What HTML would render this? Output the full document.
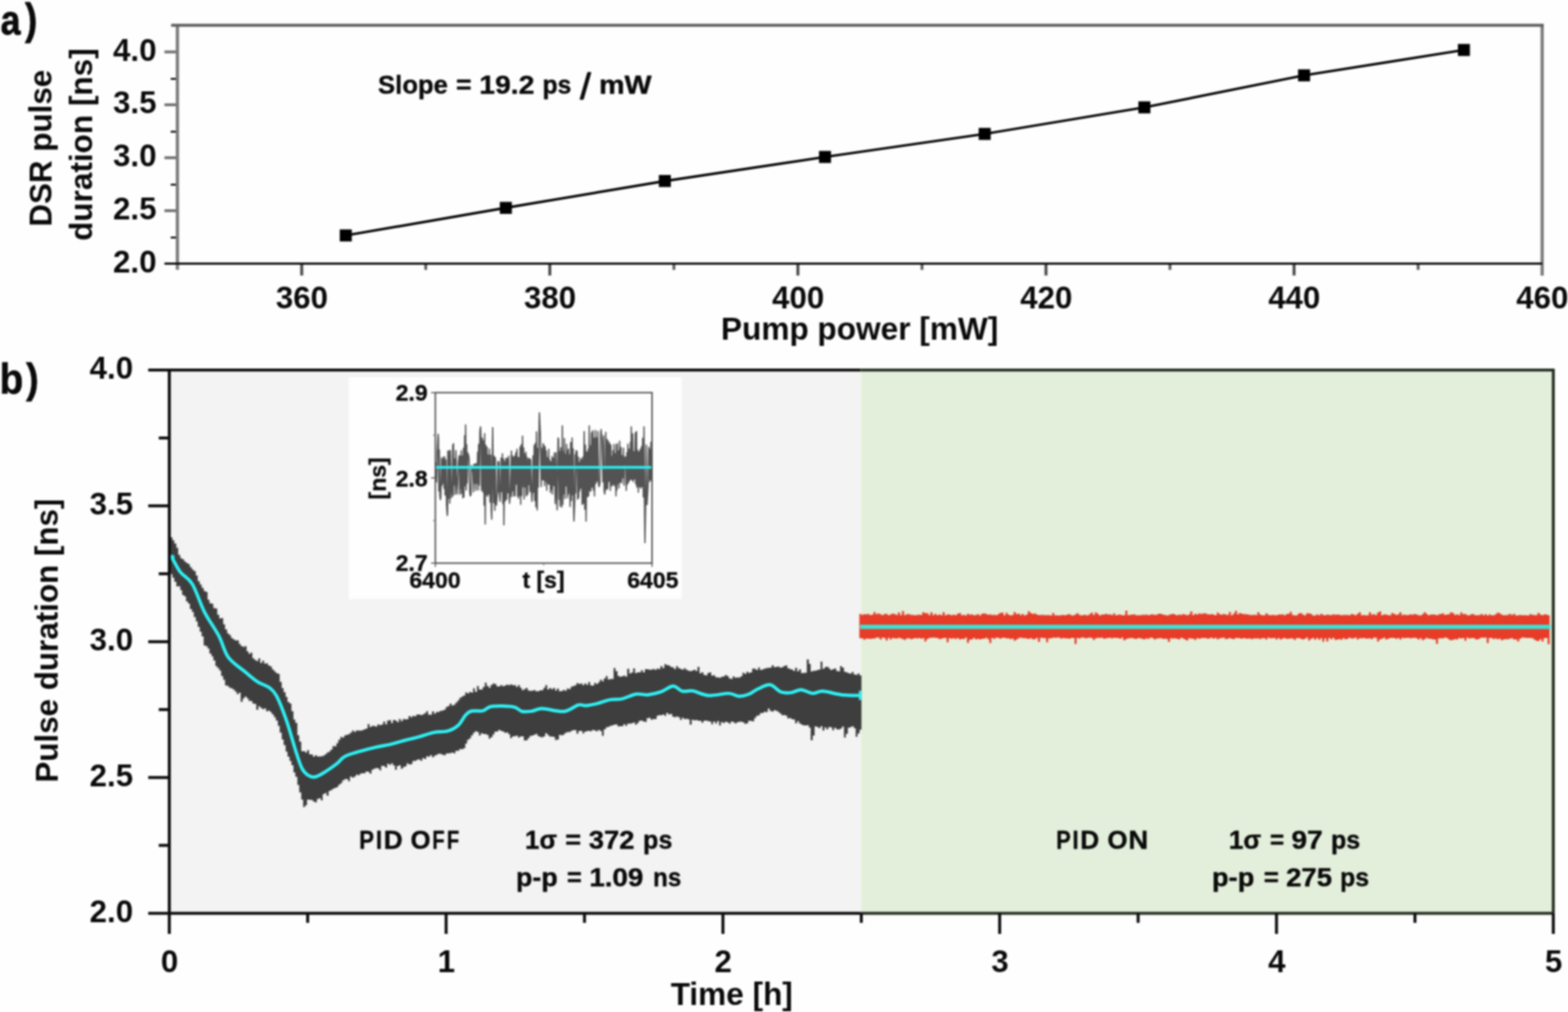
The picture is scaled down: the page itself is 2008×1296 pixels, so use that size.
<!DOCTYPE html>
<html lang="en">
<head>
<meta charset="utf-8">
<title>DSR pulse duration vs pump power and PID stabilisation</title>
<style>
html,body{margin:0;padding:0;background:#fefefe;}
body{width:2008px;height:1296px;overflow:hidden;}
svg{display:block;}
text{fill:#0a0a0a;}
</style>
</head>
<body>
<svg width="2008" height="1296" viewBox="0 0 2008 1296">
<defs>
<filter id="soft" x="-12" y="-12" width="2032" height="1320" filterUnits="userSpaceOnUse" color-interpolation-filters="sRGB">
<feGaussianBlur stdDeviation="0.9"/>
</filter>
</defs>
<rect x="0" y="0" width="2008" height="1296" fill="#fefefe"/>
<g filter="url(#soft)">
<rect x="-20" y="-20" width="2048" height="1336" fill="#fefefe"/>
<g id="panel-a">
<line x1="210.6" y1="66.5" x2="227.2" y2="66.5" stroke="#707070" stroke-width="3.6"/>
<line x1="210.6" y1="134.2" x2="227.2" y2="134.2" stroke="#707070" stroke-width="3.6"/>
<line x1="210.6" y1="202.0" x2="227.2" y2="202.0" stroke="#707070" stroke-width="3.6"/>
<line x1="210.6" y1="269.8" x2="227.2" y2="269.8" stroke="#707070" stroke-width="3.6"/>
<line x1="218.6" y1="101.0" x2="227.2" y2="101.0" stroke="#000" stroke-width="2.3"/>
<line x1="218.6" y1="168.7" x2="227.2" y2="168.7" stroke="#000" stroke-width="2.3"/>
<line x1="218.6" y1="236.5" x2="227.2" y2="236.5" stroke="#000" stroke-width="2.3"/>
<line x1="218.6" y1="304.2" x2="227.2" y2="304.2" stroke="#000" stroke-width="2.3"/>
<line x1="386.4" y1="337.5" x2="386.4" y2="352.8" stroke="#4a4a4a" stroke-width="3.8"/>
<line x1="704.1" y1="337.5" x2="704.1" y2="352.8" stroke="#4a4a4a" stroke-width="3.8"/>
<line x1="1021.8" y1="337.5" x2="1021.8" y2="352.8" stroke="#4a4a4a" stroke-width="3.8"/>
<line x1="1339.5" y1="337.5" x2="1339.5" y2="352.8" stroke="#4a4a4a" stroke-width="3.8"/>
<line x1="1657.2" y1="337.5" x2="1657.2" y2="352.8" stroke="#4a4a4a" stroke-width="3.8"/>
<line x1="545.2" y1="337.5" x2="545.2" y2="345.6" stroke="#5a5a5a" stroke-width="3.6"/>
<line x1="863.0" y1="337.5" x2="863.0" y2="345.6" stroke="#5a5a5a" stroke-width="3.6"/>
<line x1="1180.7" y1="337.5" x2="1180.7" y2="345.6" stroke="#5a5a5a" stroke-width="3.6"/>
<line x1="1498.3" y1="337.5" x2="1498.3" y2="345.6" stroke="#5a5a5a" stroke-width="3.6"/>
<line x1="1816.1" y1="337.5" x2="1816.1" y2="345.6" stroke="#5a5a5a" stroke-width="3.6"/>
<line x1="227.2" y1="30.9" x2="227.2" y2="345.6" stroke="#7c7c7c" stroke-width="4.2"/>
<line x1="1974.9" y1="30.9" x2="1974.9" y2="353.0" stroke="#7c7c7c" stroke-width="4.2"/>
<line x1="219.2" y1="32.4" x2="1976.9" y2="32.4" stroke="#5c5c5c" stroke-width="3.6"/>
<line x1="210.6" y1="337.7" x2="1974.9" y2="337.7" stroke="#060606" stroke-width="2.7"/>
<polyline fill="none" stroke="#000" stroke-width="3.2" points="442.8,301.5 647.8,266.2 851.4,231.8 1056.5,201.0 1261.0,171.5 1465.5,137.5 1670.0,96.5 1874.7,64.0"/>
<rect x="435.1" y="293.8" width="15.4" height="15.4" fill="#000"/>
<rect x="640.1" y="258.5" width="15.4" height="15.4" fill="#000"/>
<rect x="843.7" y="224.1" width="15.4" height="15.4" fill="#000"/>
<rect x="1048.8" y="193.3" width="15.4" height="15.4" fill="#000"/>
<rect x="1253.3" y="163.8" width="15.4" height="15.4" fill="#000"/>
<rect x="1457.8" y="129.8" width="15.4" height="15.4" fill="#000"/>
<rect x="1662.3" y="88.8" width="15.4" height="15.4" fill="#000"/>
<rect x="1867.0" y="56.3" width="15.4" height="15.4" fill="#000"/>
<text x="200.4" y="77.5" text-anchor="end" font-family="Liberation Sans, Arial, sans-serif" font-weight="bold" font-size="40">4.0</text>
<text x="200.4" y="145.2" text-anchor="end" font-family="Liberation Sans, Arial, sans-serif" font-weight="bold" font-size="40">3.5</text>
<text x="200.4" y="213.0" text-anchor="end" font-family="Liberation Sans, Arial, sans-serif" font-weight="bold" font-size="40">3.0</text>
<text x="200.4" y="280.8" text-anchor="end" font-family="Liberation Sans, Arial, sans-serif" font-weight="bold" font-size="40">2.5</text>
<text x="200.4" y="348.5" text-anchor="end" font-family="Liberation Sans, Arial, sans-serif" font-weight="bold" font-size="40">2.0</text>
<text x="386.7" y="395" text-anchor="middle" font-family="Liberation Sans, Arial, sans-serif" font-weight="bold" font-size="40">360</text>
<text x="704.4" y="395" text-anchor="middle" font-family="Liberation Sans, Arial, sans-serif" font-weight="bold" font-size="40">380</text>
<text x="1022.1" y="395" text-anchor="middle" font-family="Liberation Sans, Arial, sans-serif" font-weight="bold" font-size="40">400</text>
<text x="1339.8" y="395" text-anchor="middle" font-family="Liberation Sans, Arial, sans-serif" font-weight="bold" font-size="40">420</text>
<text x="1657.5" y="395" text-anchor="middle" font-family="Liberation Sans, Arial, sans-serif" font-weight="bold" font-size="40">440</text>
<text x="1975.2" y="395" text-anchor="middle" font-family="Liberation Sans, Arial, sans-serif" font-weight="bold" font-size="40">460</text>
<text transform="translate(1100.8,435.3) scale(1.012,1)" text-anchor="middle" font-family="Liberation Sans, Arial, sans-serif" font-weight="bold" font-size="40">Pump power [mW]</text>
<text transform="translate(65.7,189.8) rotate(-90) scale(0.98,1)" text-anchor="middle" font-family="Liberation Sans, Arial, sans-serif" font-weight="bold" font-size="41">DSR pulse</text>
<text transform="translate(117.9,185.2) rotate(-90) scale(0.985,1)" text-anchor="middle" font-family="Liberation Sans, Arial, sans-serif" font-weight="bold" font-size="41">duration [ns]</text>
<text y="120.2" font-family="Liberation Sans, Arial, sans-serif" font-weight="bold" font-size="34.0" fill="#0a0a0a" stroke="#0a0a0a" stroke-width="0.50" stroke-linejoin="round"><tspan x="484.1" y="120.2" textLength="89.5" lengthAdjust="spacingAndGlyphs">Slope</tspan> <tspan x="584.1" y="120.2" textLength="19.8" lengthAdjust="spacingAndGlyphs">=</tspan> <tspan x="613.8" y="120.2" textLength="70.5" lengthAdjust="spacingAndGlyphs">19.2</tspan> <tspan x="694.7" y="120.2" textLength="36.9" lengthAdjust="spacingAndGlyphs">ps</tspan> <tspan x="743.0" font-size="47.0" stroke-width="1.30" font-weight="normal" y="126.6" textLength="13.5" lengthAdjust="spacingAndGlyphs">/</tspan> <tspan x="767.2" y="120.2" textLength="67.3" lengthAdjust="spacingAndGlyphs">mW</tspan></text>
<text transform="translate(0.85,44.2) scale(0.85,1)" font-family="Liberation Sans, Arial, sans-serif" font-weight="bold" font-size="54" stroke="#0a0a0a" stroke-width="0.9" stroke-linejoin="round">a<tspan dx="6.7" dy="-0.8" font-size="55.5">)</tspan></text>
</g>
<g id="panel-b">
<rect x="216.8" y="473.9" width="885.7" height="695.7" fill="#f3f3f3"/>
<rect x="1102.5" y="473.9" width="886.7" height="695.7" fill="#e3efdb"/>
<rect x="446.5" y="483.3" width="426.5" height="284" fill="#fefefe"/>
<polygon fill="#3e3e3e" points="215.8,691.4 218.2,691.4 218.2,687.9 220.8,687.9 220.8,691.8 223.2,691.8 223.2,695.9 225.8,695.9 225.8,701.5 228.2,701.5 228.2,710.4 230.8,710.4 230.8,714.7 233.2,714.7 233.2,716.3 235.8,716.3 235.8,719.1 238.2,719.1 238.2,721.1 240.8,721.1 240.8,722.6 243.2,722.6 243.2,726.6 245.8,726.6 245.8,729.6 248.2,729.6 248.2,731.6 250.8,731.6 250.8,736.9 253.2,736.9 253.2,744.2 255.8,744.2 255.8,748.6 258.2,748.6 258.2,752.7 260.8,752.7 260.8,756.7 263.2,756.7 263.2,757.9 265.8,757.9 265.8,768.1 268.2,768.1 268.2,772.4 270.8,772.4 270.8,773.3 273.2,773.3 273.2,778.7 275.8,778.7 275.8,779.2 278.2,779.2 278.2,787.3 280.8,787.3 280.8,792.1 283.2,792.1 283.2,791.6 285.8,791.6 285.8,799.4 288.2,799.4 288.2,806.1 290.8,806.1 290.8,811.1 293.2,811.1 293.2,813.3 295.8,813.3 295.8,816.9 298.2,816.9 298.2,818.8 300.8,818.8 300.8,820.2 303.2,820.2 303.2,820.1 305.8,820.1 305.8,824.6 308.2,824.6 308.2,827.3 310.8,827.3 310.8,828.6 313.2,828.6 313.2,827.4 315.8,827.4 315.8,833.9 318.2,833.9 318.2,837.2 320.8,837.2 320.8,835.7 323.2,835.7 323.2,843.0 325.8,843.0 325.8,845.3 328.2,845.3 328.2,846.5 330.8,846.5 330.8,843.0 333.2,843.0 333.2,849.1 335.8,849.1 335.8,845.9 338.2,845.9 338.2,849.7 340.8,849.7 340.8,849.5 343.2,849.5 343.2,852.3 345.8,852.3 345.8,853.4 348.2,853.4 348.2,857.2 350.8,857.2 350.8,859.8 353.2,859.8 353.2,861.9 355.8,861.9 355.8,863.0 358.2,863.0 358.2,873.2 360.8,873.2 360.8,881.3 363.2,881.3 363.2,886.4 365.8,886.4 365.8,892.4 368.2,892.4 368.2,899.1 370.8,899.1 370.8,900.9 373.2,900.9 373.2,910.7 375.8,910.7 375.8,921.4 378.2,921.4 378.2,925.8 380.8,925.8 380.8,941.6 383.2,941.6 383.2,949.8 385.8,949.8 385.8,961.9 388.2,961.9 388.2,961.9 390.8,961.9 390.8,963.8 393.2,963.8 393.2,960.7 395.8,960.7 395.8,965.9 398.2,965.9 398.2,966.2 400.8,966.2 400.8,968.9 403.2,968.9 403.2,967.2 405.8,967.2 405.8,968.7 408.2,968.7 408.2,968.7 410.8,968.7 410.8,968.4 413.2,968.4 413.2,967.7 415.8,967.7 415.8,965.9 418.2,965.9 418.2,963.7 420.8,963.7 420.8,962.6 423.2,962.6 423.2,960.0 425.8,960.0 425.8,955.4 428.2,955.4 428.2,955.8 430.8,955.8 430.8,951.8 433.2,951.8 433.2,947.4 435.8,947.4 435.8,943.8 438.2,943.8 438.2,944.4 440.8,944.4 440.8,941.8 443.2,941.8 443.2,941.0 445.8,941.0 445.8,940.2 448.2,940.2 448.2,938.3 450.8,938.3 450.8,935.6 453.2,935.6 453.2,937.2 455.8,937.2 455.8,935.5 458.2,935.5 458.2,935.4 460.8,935.4 460.8,935.7 463.2,935.7 463.2,935.1 465.8,935.1 465.8,934.0 468.2,934.0 468.2,932.9 470.8,932.9 470.8,927.3 473.2,927.3 473.2,930.9 475.8,930.9 475.8,929.4 478.2,929.4 478.2,929.7 480.8,929.7 480.8,930.5 483.2,930.5 483.2,927.8 485.8,927.8 485.8,928.7 488.2,928.7 488.2,927.7 490.8,927.7 490.8,924.1 493.2,924.1 493.2,927.4 495.8,927.4 495.8,922.7 498.2,922.7 498.2,922.2 500.8,922.2 500.8,926.1 503.2,926.1 503.2,922.1 505.8,922.1 505.8,922.7 508.2,922.7 508.2,924.8 510.8,924.8 510.8,920.8 513.2,920.8 513.2,923.6 515.8,923.6 515.8,920.8 518.2,920.8 518.2,921.3 520.8,921.3 520.8,920.9 523.2,920.9 523.2,917.0 525.8,917.0 525.8,918.6 528.2,918.6 528.2,916.8 530.8,916.8 530.8,917.3 533.2,917.3 533.2,915.0 535.8,915.0 535.8,915.0 538.2,915.0 538.2,915.8 540.8,915.8 540.8,915.1 543.2,915.1 543.2,913.2 545.8,913.2 545.8,910.8 548.2,910.8 548.2,915.2 550.8,915.2 550.8,915.3 553.2,915.3 553.2,911.1 555.8,911.1 555.8,913.9 558.2,913.9 558.2,911.7 560.8,911.7 560.8,911.7 563.2,911.7 563.2,910.2 565.8,910.2 565.8,910.1 568.2,910.1 568.2,908.8 570.8,908.8 570.8,905.6 573.2,905.6 573.2,904.3 575.8,904.3 575.8,901.1 578.2,901.1 578.2,903.4 580.8,903.4 580.8,902.6 583.2,902.6 583.2,899.8 585.8,899.8 585.8,896.9 588.2,896.9 588.2,893.8 590.8,893.8 590.8,891.9 593.2,891.9 593.2,890.8 595.8,890.8 595.8,886.8 598.2,886.8 598.2,888.0 600.8,888.0 600.8,886.0 603.2,886.0 603.2,887.1 605.8,887.1 605.8,881.4 608.2,881.4 608.2,886.0 610.8,886.0 610.8,878.6 613.2,878.6 613.2,882.9 615.8,882.9 615.8,883.1 618.2,883.1 618.2,879.7 620.8,879.7 620.8,874.2 623.2,874.2 623.2,878.6 625.8,878.6 625.8,880.7 628.2,880.7 628.2,877.2 630.8,877.2 630.8,875.2 633.2,875.2 633.2,876.1 635.8,876.1 635.8,879.1 638.2,879.1 638.2,878.9 640.8,878.9 640.8,877.3 643.2,877.3 643.2,878.7 645.8,878.7 645.8,878.0 648.2,878.0 648.2,876.8 650.8,876.8 650.8,877.5 653.2,877.5 653.2,876.5 655.8,876.5 655.8,877.5 658.2,877.5 658.2,877.5 660.8,877.5 660.8,879.7 663.2,879.7 663.2,877.5 665.8,877.5 665.8,880.8 668.2,880.8 668.2,883.7 670.8,883.7 670.8,882.6 673.2,882.6 673.2,881.0 675.8,881.0 675.8,884.3 678.2,884.3 678.2,884.7 680.8,884.7 680.8,884.4 683.2,884.4 683.2,883.8 685.8,883.8 685.8,885.3 688.2,885.3 688.2,885.2 690.8,885.2 690.8,884.1 693.2,884.1 693.2,884.0 695.8,884.0 695.8,881.0 698.2,881.0 698.2,877.5 700.8,877.5 700.8,882.9 703.2,882.9 703.2,881.0 705.8,881.0 705.8,882.8 708.2,882.8 708.2,881.1 710.8,881.1 710.8,884.2 713.2,884.2 713.2,881.7 715.8,881.7 715.8,885.2 718.2,885.2 718.2,885.1 720.8,885.1 720.8,883.6 723.2,883.6 723.2,884.5 725.8,884.5 725.8,881.8 728.2,881.8 728.2,882.6 730.8,882.6 730.8,879.5 733.2,879.5 733.2,878.4 735.8,878.4 735.8,877.7 738.2,877.7 738.2,874.7 740.8,874.7 740.8,876.0 743.2,876.0 743.2,875.3 745.8,875.3 745.8,877.4 748.2,877.4 748.2,875.2 750.8,875.2 750.8,877.1 753.2,877.1 753.2,873.5 755.8,873.5 755.8,877.8 758.2,877.8 758.2,878.0 760.8,878.0 760.8,874.5 763.2,874.5 763.2,876.0 765.8,876.0 765.8,873.8 768.2,873.8 768.2,870.6 770.8,870.6 770.8,872.5 773.2,872.5 773.2,868.8 775.8,868.8 775.8,865.7 778.2,865.7 778.2,870.3 780.8,870.3 780.8,869.4 783.2,869.4 783.2,869.4 785.8,869.4 785.8,855.6 788.2,855.6 788.2,859.4 790.8,859.4 790.8,865.4 793.2,865.4 793.2,866.7 795.8,866.7 795.8,865.9 798.2,865.9 798.2,865.2 800.8,865.2 800.8,866.6 803.2,866.6 803.2,856.6 805.8,856.6 805.8,862.5 808.2,862.5 808.2,861.3 810.8,861.3 810.8,855.9 813.2,855.9 813.2,861.9 815.8,861.9 815.8,860.9 818.2,860.9 818.2,860.9 820.8,860.9 820.8,858.3 823.2,858.3 823.2,860.9 825.8,860.9 825.8,857.0 828.2,857.0 828.2,857.1 830.8,857.1 830.8,857.7 833.2,857.7 833.2,857.6 835.8,857.6 835.8,856.7 838.2,856.7 838.2,857.7 840.8,857.7 840.8,856.3 843.2,856.3 843.2,856.8 845.8,856.8 845.8,853.0 848.2,853.0 848.2,855.4 850.8,855.4 850.8,850.5 853.2,850.5 853.2,851.8 855.8,851.8 855.8,852.3 858.2,852.3 858.2,854.1 860.8,854.1 860.8,854.7 863.2,854.7 863.2,856.7 865.8,856.7 865.8,853.0 868.2,853.0 868.2,855.6 870.8,855.6 870.8,856.7 873.2,856.7 873.2,857.5 875.8,857.5 875.8,855.8 878.2,855.8 878.2,857.7 880.8,857.7 880.8,858.9 883.2,858.9 883.2,859.6 885.8,859.6 885.8,858.7 888.2,858.7 888.2,857.8 890.8,857.8 890.8,859.2 893.2,859.2 893.2,854.1 895.8,854.1 895.8,862.3 898.2,862.3 898.2,861.1 900.8,861.1 900.8,864.3 903.2,864.3 903.2,865.1 905.8,865.1 905.8,861.9 908.2,861.9 908.2,861.0 910.8,861.0 910.8,865.3 913.2,865.3 913.2,864.8 915.8,864.8 915.8,867.2 918.2,867.2 918.2,867.5 920.8,867.5 920.8,867.9 923.2,867.9 923.2,866.8 925.8,866.8 925.8,866.2 928.2,866.2 928.2,864.5 930.8,864.5 930.8,865.7 933.2,865.7 933.2,868.8 935.8,868.8 935.8,869.5 938.2,869.5 938.2,866.3 940.8,866.3 940.8,868.0 943.2,868.0 943.2,867.6 945.8,867.6 945.8,867.7 948.2,867.7 948.2,866.1 950.8,866.1 950.8,861.4 953.2,861.4 953.2,863.1 955.8,863.1 955.8,860.2 958.2,860.2 958.2,861.8 960.8,861.8 960.8,861.0 963.2,861.0 963.2,856.2 965.8,856.2 965.8,856.4 968.2,856.4 968.2,858.0 970.8,858.0 970.8,854.7 973.2,854.7 973.2,858.1 975.8,858.1 975.8,857.3 978.2,857.3 978.2,856.2 980.8,856.2 980.8,855.6 983.2,855.6 983.2,855.2 985.8,855.2 985.8,855.0 988.2,855.0 988.2,852.0 990.8,852.0 990.8,854.5 993.2,854.5 993.2,853.9 995.8,853.9 995.8,853.5 998.2,853.5 998.2,855.1 1000.8,855.1 1000.8,854.6 1003.2,854.6 1003.2,852.9 1005.8,852.9 1005.8,852.0 1008.2,852.0 1008.2,855.8 1010.8,855.8 1010.8,856.7 1013.2,856.7 1013.2,857.4 1015.8,857.4 1015.8,859.3 1018.2,859.3 1018.2,855.2 1020.8,855.2 1020.8,859.7 1023.2,859.7 1023.2,857.2 1025.8,857.2 1025.8,862.0 1028.2,862.0 1028.2,861.8 1030.8,861.8 1030.8,861.4 1033.2,861.4 1033.2,844.4 1035.8,844.4 1035.8,850.2 1038.2,850.2 1038.2,859.9 1040.8,859.9 1040.8,858.9 1043.2,858.9 1043.2,859.1 1045.8,859.1 1045.8,857.9 1048.2,857.9 1048.2,857.6 1050.8,857.6 1050.8,847.3 1053.2,847.3 1053.2,856.6 1055.8,856.6 1055.8,854.4 1058.2,854.4 1058.2,853.8 1060.8,853.8 1060.8,855.8 1063.2,855.8 1063.2,857.9 1065.8,857.9 1065.8,856.9 1068.2,856.9 1068.2,856.0 1070.8,856.0 1070.8,859.3 1073.2,859.3 1073.2,859.7 1075.8,859.7 1075.8,853.0 1078.2,853.0 1078.2,854.9 1080.8,854.9 1080.8,860.3 1083.2,860.3 1083.2,860.9 1085.8,860.9 1085.8,862.2 1088.2,862.2 1088.2,862.5 1090.8,862.5 1090.8,860.4 1093.2,860.4 1093.2,863.8 1095.8,863.8 1095.8,864.3 1098.2,864.3 1098.2,862.5 1100.8,862.5 1100.8,865.1 1103.2,865.1 1103.2,934.5 1100.8,934.5 1100.8,939.2 1098.2,939.2 1098.2,943.5 1095.8,943.5 1095.8,932.6 1093.2,932.6 1093.2,930.1 1090.8,930.1 1090.8,931.3 1088.2,931.3 1088.2,931.9 1085.8,931.9 1085.8,939.7 1083.2,939.7 1083.2,944.4 1080.8,944.4 1080.8,930.6 1078.2,930.6 1078.2,933.1 1075.8,933.1 1075.8,934.3 1073.2,934.3 1073.2,934.0 1070.8,934.0 1070.8,932.0 1068.2,932.0 1068.2,935.2 1065.8,935.2 1065.8,931.5 1063.2,931.5 1063.2,930.9 1060.8,930.9 1060.8,933.9 1058.2,933.9 1058.2,931.5 1055.8,931.5 1055.8,935.5 1053.2,935.5 1053.2,930.1 1050.8,930.1 1050.8,932.6 1048.2,932.6 1048.2,930.9 1045.8,930.9 1045.8,930.2 1043.2,930.2 1043.2,942.0 1040.8,942.0 1040.8,948.0 1038.2,948.0 1038.2,931.8 1035.8,931.8 1035.8,928.7 1033.2,928.7 1033.2,929.0 1030.8,929.0 1030.8,929.1 1028.2,929.1 1028.2,928.0 1025.8,928.0 1025.8,926.4 1023.2,926.4 1023.2,923.5 1020.8,923.5 1020.8,926.2 1018.2,926.2 1018.2,921.5 1015.8,921.5 1015.8,920.9 1013.2,920.9 1013.2,919.4 1010.8,919.4 1010.8,920.1 1008.2,920.1 1008.2,916.5 1005.8,916.5 1005.8,915.7 1003.2,915.7 1003.2,916.0 1000.8,916.0 1000.8,913.8 998.2,913.8 998.2,911.8 995.8,911.8 995.8,910.2 993.2,910.2 993.2,909.5 990.8,909.5 990.8,911.3 988.2,911.3 988.2,910.6 985.8,910.6 985.8,907.6 983.2,907.6 983.2,912.0 980.8,912.0 980.8,911.6 978.2,911.6 978.2,913.0 975.8,913.0 975.8,913.2 973.2,913.2 973.2,916.1 970.8,916.1 970.8,916.7 968.2,916.7 968.2,919.5 965.8,919.5 965.8,923.8 963.2,923.8 963.2,923.3 960.8,923.3 960.8,922.9 958.2,922.9 958.2,926.3 955.8,926.3 955.8,927.0 953.2,927.0 953.2,924.9 950.8,924.9 950.8,924.2 948.2,924.2 948.2,924.3 945.8,924.3 945.8,924.9 943.2,924.9 943.2,926.4 940.8,926.4 940.8,924.7 938.2,924.7 938.2,924.0 935.8,924.0 935.8,926.8 933.2,926.8 933.2,924.9 930.8,924.9 930.8,924.3 928.2,924.3 928.2,926.0 925.8,926.0 925.8,924.8 923.2,924.8 923.2,929.0 920.8,929.0 920.8,923.5 918.2,923.5 918.2,926.6 915.8,926.6 915.8,923.9 913.2,923.9 913.2,927.4 910.8,927.4 910.8,923.9 908.2,923.9 908.2,923.5 905.8,923.5 905.8,922.7 903.2,922.7 903.2,922.9 900.8,922.9 900.8,925.4 898.2,925.4 898.2,923.0 895.8,923.0 895.8,923.0 893.2,923.0 893.2,922.1 890.8,922.1 890.8,922.6 888.2,922.6 888.2,921.7 885.8,921.7 885.8,928.0 883.2,928.0 883.2,921.3 880.8,921.3 880.8,920.4 878.2,920.4 878.2,920.9 875.8,920.9 875.8,919.3 873.2,919.3 873.2,921.9 870.8,921.9 870.8,918.4 868.2,918.4 868.2,917.6 865.8,917.6 865.8,918.4 863.2,918.4 863.2,917.7 860.8,917.7 860.8,914.3 858.2,914.3 858.2,915.0 855.8,915.0 855.8,913.0 853.2,913.0 853.2,916.7 850.8,916.7 850.8,914.9 848.2,914.9 848.2,915.9 845.8,915.9 845.8,915.8 843.2,915.8 843.2,916.7 840.8,916.7 840.8,921.0 838.2,921.0 838.2,920.7 835.8,920.7 835.8,921.8 833.2,921.8 833.2,919.2 830.8,919.2 830.8,919.7 828.2,919.7 828.2,924.5 825.8,924.5 825.8,924.0 823.2,924.0 823.2,922.7 820.8,922.7 820.8,923.1 818.2,923.1 818.2,925.8 815.8,925.8 815.8,928.1 813.2,928.1 813.2,925.2 810.8,925.2 810.8,926.2 808.2,926.2 808.2,926.7 805.8,926.7 805.8,926.8 803.2,926.8 803.2,929.4 800.8,929.4 800.8,927.6 798.2,927.6 798.2,929.9 795.8,929.9 795.8,930.1 793.2,930.1 793.2,930.3 790.8,930.3 790.8,927.7 788.2,927.7 788.2,927.9 785.8,927.9 785.8,929.0 783.2,929.0 783.2,929.4 780.8,929.4 780.8,930.8 778.2,930.8 778.2,931.5 775.8,931.5 775.8,934.0 773.2,934.0 773.2,942.2 770.8,942.2 770.8,936.2 768.2,936.2 768.2,934.8 765.8,934.8 765.8,936.6 763.2,936.6 763.2,935.5 760.8,935.5 760.8,934.8 758.2,934.8 758.2,936.6 755.8,936.6 755.8,936.1 753.2,936.1 753.2,936.2 750.8,936.2 750.8,936.9 748.2,936.9 748.2,939.2 745.8,939.2 745.8,936.0 743.2,936.0 743.2,936.1 740.8,936.1 740.8,939.5 738.2,939.5 738.2,935.1 735.8,935.1 735.8,935.1 733.2,935.1 733.2,936.0 730.8,936.0 730.8,937.5 728.2,937.5 728.2,937.5 725.8,937.5 725.8,938.5 723.2,938.5 723.2,940.8 720.8,940.8 720.8,941.7 718.2,941.7 718.2,941.1 715.8,941.1 715.8,946.9 713.2,946.9 713.2,947.7 710.8,947.7 710.8,943.8 708.2,943.8 708.2,943.3 705.8,943.3 705.8,943.3 703.2,943.3 703.2,941.3 700.8,941.3 700.8,939.1 698.2,939.1 698.2,942.9 695.8,942.9 695.8,944.2 693.2,944.2 693.2,943.7 690.8,943.7 690.8,942.6 688.2,942.6 688.2,939.7 685.8,939.7 685.8,940.9 683.2,940.9 683.2,942.0 680.8,942.0 680.8,942.5 678.2,942.5 678.2,945.2 675.8,945.2 675.8,948.0 673.2,948.0 673.2,948.2 670.8,948.2 670.8,943.0 668.2,943.0 668.2,942.9 665.8,942.9 665.8,944.6 663.2,944.6 663.2,941.9 660.8,941.9 660.8,942.8 658.2,942.8 658.2,942.9 655.8,942.9 655.8,945.3 653.2,945.3 653.2,940.3 650.8,940.3 650.8,937.9 648.2,937.9 648.2,938.4 645.8,938.4 645.8,936.7 643.2,936.7 643.2,936.1 640.8,936.1 640.8,934.8 638.2,934.8 638.2,936.8 635.8,936.8 635.8,937.0 633.2,937.0 633.2,940.5 630.8,940.5 630.8,943.9 628.2,943.9 628.2,946.0 625.8,946.0 625.8,941.3 623.2,941.3 623.2,939.9 620.8,939.9 620.8,940.0 618.2,940.0 618.2,938.9 615.8,938.9 615.8,941.7 613.2,941.7 613.2,937.5 610.8,937.5 610.8,936.5 608.2,936.5 608.2,938.5 605.8,938.5 605.8,941.8 603.2,941.8 603.2,945.4 600.8,945.4 600.8,947.6 598.2,947.6 598.2,952.3 595.8,952.3 595.8,958.2 593.2,958.2 593.2,959.6 590.8,959.6 590.8,959.2 588.2,959.2 588.2,961.4 585.8,961.4 585.8,961.5 583.2,961.5 583.2,964.8 580.8,964.8 580.8,963.8 578.2,963.8 578.2,964.5 575.8,964.5 575.8,964.8 573.2,964.8 573.2,965.1 570.8,965.1 570.8,967.3 568.2,967.3 568.2,966.6 565.8,966.6 565.8,965.4 563.2,965.4 563.2,965.3 560.8,965.3 560.8,966.4 558.2,966.4 558.2,967.7 555.8,967.7 555.8,969.7 553.2,969.7 553.2,967.0 550.8,967.0 550.8,969.0 548.2,969.0 548.2,968.6 545.8,968.6 545.8,971.9 543.2,971.9 543.2,970.7 540.8,970.7 540.8,974.2 538.2,974.2 538.2,972.6 535.8,972.6 535.8,973.1 533.2,973.1 533.2,974.6 530.8,974.6 530.8,974.6 528.2,974.6 528.2,978.4 525.8,978.4 525.8,978.9 523.2,978.9 523.2,977.4 520.8,977.4 520.8,981.3 518.2,981.3 518.2,982.6 515.8,982.6 515.8,984.5 513.2,984.5 513.2,980.1 510.8,980.1 510.8,981.0 508.2,981.0 508.2,985.8 505.8,985.8 505.8,980.2 503.2,980.2 503.2,977.6 500.8,977.6 500.8,979.4 498.2,979.4 498.2,977.9 495.8,977.9 495.8,983.1 493.2,983.1 493.2,980.9 490.8,980.9 490.8,980.8 488.2,980.8 488.2,986.4 485.8,986.4 485.8,984.0 483.2,984.0 483.2,983.6 480.8,983.6 480.8,984.4 478.2,984.4 478.2,985.7 475.8,985.7 475.8,990.7 473.2,990.7 473.2,988.4 470.8,988.4 470.8,988.0 468.2,988.0 468.2,990.2 465.8,990.2 465.8,990.2 463.2,990.2 463.2,990.8 460.8,990.8 460.8,992.8 458.2,992.8 458.2,992.0 455.8,992.0 455.8,994.6 453.2,994.6 453.2,996.1 450.8,996.1 450.8,994.6 448.2,994.6 448.2,1000.5 445.8,1000.5 445.8,997.8 443.2,997.8 443.2,997.8 440.8,997.8 440.8,999.5 438.2,999.5 438.2,1002.9 435.8,1002.9 435.8,1004.9 433.2,1004.9 433.2,1008.1 430.8,1008.1 430.8,1008.9 428.2,1008.9 428.2,1009.9 425.8,1009.9 425.8,1011.8 423.2,1011.8 423.2,1013.1 420.8,1013.1 420.8,1019.1 418.2,1019.1 418.2,1015.4 415.8,1015.4 415.8,1017.1 413.2,1017.1 413.2,1025.1 410.8,1025.1 410.8,1022.2 408.2,1022.2 408.2,1023.3 405.8,1023.3 405.8,1027.4 403.2,1027.4 403.2,1026.5 400.8,1026.5 400.8,1024.5 398.2,1024.5 398.2,1024.3 395.8,1024.3 395.8,1024.1 393.2,1024.1 393.2,1031.2 390.8,1031.2 390.8,1033.5 388.2,1033.5 388.2,1023.9 385.8,1023.9 385.8,1014.8 383.2,1014.8 383.2,1005.2 380.8,1005.2 380.8,994.7 378.2,994.7 378.2,989.3 375.8,989.3 375.8,980.1 373.2,980.1 373.2,974.4 370.8,974.4 370.8,968.9 368.2,968.9 368.2,962.5 365.8,962.5 365.8,954.3 363.2,954.3 363.2,947.0 360.8,947.0 360.8,938.2 358.2,938.2 358.2,929.6 355.8,929.6 355.8,922.8 353.2,922.8 353.2,918.5 350.8,918.5 350.8,915.0 348.2,915.0 348.2,912.0 345.8,912.0 345.8,909.9 343.2,909.9 343.2,911.0 340.8,911.0 340.8,907.3 338.2,907.3 338.2,908.3 335.8,908.3 335.8,906.4 333.2,906.4 333.2,904.6 330.8,904.6 330.8,908.9 328.2,908.9 328.2,901.4 325.8,901.4 325.8,901.0 323.2,901.0 323.2,897.7 320.8,897.7 320.8,897.4 318.2,897.4 318.2,894.3 315.8,894.3 315.8,891.9 313.2,891.9 313.2,894.6 310.8,894.6 310.8,898.7 308.2,898.7 308.2,887.1 305.8,887.1 305.8,888.9 303.2,888.9 303.2,885.7 300.8,885.7 300.8,883.2 298.2,883.2 298.2,881.5 295.8,881.5 295.8,880.7 293.2,880.7 293.2,878.5 290.8,878.5 290.8,877.8 288.2,877.8 288.2,870.6 285.8,870.6 285.8,865.7 283.2,865.7 283.2,858.7 280.8,858.7 280.8,855.4 278.2,855.4 278.2,853.0 275.8,853.0 275.8,845.7 273.2,845.7 273.2,840.4 270.8,840.4 270.8,837.1 268.2,837.1 268.2,830.6 265.8,830.6 265.8,827.6 263.2,827.6 263.2,826.6 260.8,826.6 260.8,814.9 258.2,814.9 258.2,809.1 255.8,809.1 255.8,802.8 253.2,802.8 253.2,795.7 250.8,795.7 250.8,790.3 248.2,790.3 248.2,783.8 245.8,783.8 245.8,780.0 243.2,780.0 243.2,773.0 240.8,773.0 240.8,770.3 238.2,770.3 238.2,763.8 235.8,763.8 235.8,762.0 233.2,762.0 233.2,755.7 230.8,755.7 230.8,750.8 228.2,750.8 228.2,751.0 225.8,751.0 225.8,745.0 223.2,745.0 223.2,739.7 220.8,739.7 220.8,735.2 218.2,735.2 218.2,729.2 215.8,729.2"/>
<line x1="1101.4" y1="884.5" x2="1101.4" y2="896.5" stroke="#2ef2f6" stroke-width="3.0"/>
<circle cx="220.4" cy="713.6" r="3.2" fill="#2ef2f6"/>
<path d="M217.0,713.0C217.5,713.2 217.8,710.8 220.1,714.0C222.4,717.2 226.5,726.8 230.9,732.5C235.3,738.2 241.2,739.5 246.3,748.0C251.4,756.5 256.1,772.5 261.7,783.5C267.3,794.5 275.0,804.5 280.2,814.3C285.4,824.1 286.9,834.4 292.6,842.1C298.3,849.8 308.0,855.5 314.2,860.6C320.4,865.8 324.5,869.6 329.6,873.0C334.8,876.4 341.0,877.6 345.1,880.7C349.2,883.8 350.7,884.6 354.3,891.5C357.9,898.4 362.6,910.5 366.7,922.3C370.8,934.1 375.7,952.2 379.0,962.5C382.3,972.8 384.1,979.0 386.7,984.0C389.3,989.0 391.6,990.9 394.4,992.7C397.2,994.5 400.1,995.6 403.7,994.9C407.3,994.2 411.4,991.5 416.0,988.7C420.6,985.9 426.9,981.4 431.5,977.9C436.1,974.4 436.1,971.1 443.8,967.7C451.5,964.4 468.4,960.2 477.8,957.8C487.2,955.4 493.2,954.8 500.0,953.2C506.8,951.6 512.3,949.7 518.5,948.1C524.7,946.5 530.8,945.2 537.0,943.5C543.2,941.8 549.4,939.2 555.6,938.0C561.8,936.8 568.8,937.5 574.0,936.0C579.2,934.5 583.3,932.1 587.0,928.7C590.7,925.3 593.5,918.7 596.3,915.7C599.1,912.7 600.0,911.5 603.7,910.6C607.4,909.7 614.2,911.2 618.5,910.2C622.8,909.2 623.1,905.4 629.6,904.6C636.1,903.8 650.9,904.1 657.4,905.2C663.9,906.3 664.5,910.2 668.5,911.1C672.5,912.0 677.2,911.3 681.5,910.7C685.8,910.1 687.6,907.3 694.4,907.4C701.2,907.5 714.5,911.9 722.2,911.1C729.9,910.3 736.1,904.0 740.7,902.8C745.3,901.6 746.0,904.0 750.0,903.7C754.0,903.4 759.5,902.3 764.8,901.0C770.0,899.7 776.2,897.0 781.5,896.0C786.8,895.0 790.8,896.2 796.3,895.0C801.8,893.8 809.2,889.8 814.8,888.9C820.3,888.0 824.4,890.3 829.6,889.8C834.9,889.3 840.9,888.0 846.3,886.1C851.7,884.2 857.4,878.9 862.0,878.7C866.6,878.6 869.8,884.2 874.0,885.2C878.2,886.2 881.4,883.9 887.0,884.8C892.6,885.7 899.7,890.2 907.4,890.7C915.1,891.2 926.8,887.8 933.3,888.0C939.8,888.2 942.0,891.6 946.3,891.7C950.6,891.9 955.3,890.5 959.3,888.9C963.3,887.3 965.9,884.4 970.4,882.4C974.9,880.4 981.2,876.3 986.1,876.9C991.0,877.5 995.5,884.4 1000.0,886.1C1004.5,887.8 1008.7,887.5 1013.0,887.0C1017.3,886.5 1021.4,883.1 1026.0,883.3C1030.6,883.5 1036.1,887.7 1040.7,888.0C1045.3,888.3 1047.5,884.9 1053.7,885.2C1059.9,885.5 1069.8,888.9 1077.8,889.8C1085.8,890.7 1097.5,890.6 1101.5,890.7" fill="none" stroke="#2ef2f6" stroke-width="4.2" stroke-linecap="round" stroke-linejoin="round"/>
<polygon fill="#e63c28" points="1100.5,786.2 1103.1,786.2 1103.1,787.6 1105.7,787.6 1105.7,786.4 1108.3,786.4 1108.3,786.7 1110.9,786.7 1110.9,786.2 1113.5,786.2 1113.5,787.7 1116.1,787.7 1116.1,786.9 1118.7,786.9 1118.7,783.8 1121.3,783.8 1121.3,786.5 1123.9,786.5 1123.9,785.4 1126.5,785.4 1126.5,786.8 1129.1,786.8 1129.1,787.7 1131.7,787.7 1131.7,786.3 1134.3,786.3 1134.3,786.2 1136.9,786.2 1136.9,788.0 1139.5,788.0 1139.5,786.7 1142.1,786.7 1142.1,785.8 1144.7,785.8 1144.7,786.6 1147.3,786.6 1147.3,787.6 1149.9,787.6 1149.9,784.2 1152.5,784.2 1152.5,787.7 1155.1,787.7 1155.1,782.4 1157.7,782.4 1157.7,787.8 1160.3,787.8 1160.3,786.5 1162.9,786.5 1162.9,786.6 1165.5,786.6 1165.5,787.6 1168.1,787.6 1168.1,787.5 1170.7,787.5 1170.7,788.1 1173.3,788.1 1173.3,787.5 1175.9,787.5 1175.9,787.2 1178.5,787.2 1178.5,787.6 1181.1,787.6 1181.1,784.1 1183.7,784.1 1183.7,785.3 1186.3,785.3 1186.3,785.3 1188.9,785.3 1188.9,787.7 1191.5,787.7 1191.5,784.1 1194.1,784.1 1194.1,787.7 1196.7,787.7 1196.7,785.9 1199.3,785.9 1199.3,788.1 1201.9,788.1 1201.9,786.8 1204.5,786.8 1204.5,787.9 1207.1,787.9 1207.1,783.9 1209.7,783.9 1209.7,788.0 1212.3,788.0 1212.3,786.8 1214.9,786.8 1214.9,786.9 1217.5,786.9 1217.5,787.9 1220.1,787.9 1220.1,787.0 1222.7,787.0 1222.7,787.9 1225.3,787.9 1225.3,786.0 1227.9,786.0 1227.9,785.0 1230.5,785.0 1230.5,787.7 1233.1,787.7 1233.1,787.5 1235.7,787.5 1235.7,788.3 1238.3,788.3 1238.3,785.9 1240.9,785.9 1240.9,787.2 1243.5,787.2 1243.5,786.7 1246.1,786.7 1246.1,787.9 1248.7,787.9 1248.7,787.5 1251.3,787.5 1251.3,786.5 1253.9,786.5 1253.9,788.2 1256.5,788.2 1256.5,786.0 1259.1,786.0 1259.1,785.5 1261.7,785.5 1261.7,786.3 1264.3,786.3 1264.3,787.3 1266.9,787.3 1266.9,786.8 1269.5,786.8 1269.5,787.8 1272.1,787.8 1272.1,787.2 1274.7,787.2 1274.7,787.9 1277.3,787.9 1277.3,786.4 1279.9,786.4 1279.9,785.1 1282.5,785.1 1282.5,784.6 1285.1,784.6 1285.1,787.9 1287.7,787.9 1287.7,784.8 1290.3,784.8 1290.3,787.1 1292.9,787.1 1292.9,788.2 1295.5,788.2 1295.5,787.6 1298.1,787.6 1298.1,783.8 1300.7,783.8 1300.7,786.4 1303.3,786.4 1303.3,785.8 1305.9,785.8 1305.9,787.8 1308.5,787.8 1308.5,786.2 1311.1,786.2 1311.1,788.3 1313.7,788.3 1313.7,787.1 1316.3,787.1 1316.3,782.7 1318.9,782.7 1318.9,784.9 1321.5,784.9 1321.5,786.2 1324.1,786.2 1324.1,785.5 1326.7,785.5 1326.7,787.0 1329.3,787.0 1329.3,787.7 1331.9,787.7 1331.9,787.5 1334.5,787.5 1334.5,787.6 1337.1,787.6 1337.1,787.8 1339.7,787.8 1339.7,787.7 1342.3,787.7 1342.3,787.8 1344.9,787.8 1344.9,788.3 1347.5,788.3 1347.5,784.9 1350.1,784.9 1350.1,787.9 1352.7,787.9 1352.7,788.0 1355.3,788.0 1355.3,788.2 1357.9,788.2 1357.9,787.7 1360.5,787.7 1360.5,787.6 1363.1,787.6 1363.1,788.1 1365.7,788.1 1365.7,786.9 1368.3,786.9 1368.3,786.5 1370.9,786.5 1370.9,788.1 1373.5,788.1 1373.5,788.2 1376.1,788.2 1376.1,786.7 1378.7,786.7 1378.7,785.3 1381.3,785.3 1381.3,787.6 1383.9,787.6 1383.9,788.2 1386.5,788.2 1386.5,787.5 1389.1,787.5 1389.1,787.4 1391.7,787.4 1391.7,788.3 1394.3,788.3 1394.3,786.5 1396.9,786.5 1396.9,784.4 1399.5,784.4 1399.5,787.4 1402.1,787.4 1402.1,784.2 1404.7,784.2 1404.7,786.0 1407.3,786.0 1407.3,788.2 1409.9,788.2 1409.9,787.1 1412.5,787.1 1412.5,787.0 1415.1,787.0 1415.1,786.1 1417.7,786.1 1417.7,786.9 1420.3,786.9 1420.3,786.8 1422.9,786.8 1422.9,787.7 1425.5,787.7 1425.5,785.6 1428.1,785.6 1428.1,788.0 1430.7,788.0 1430.7,787.3 1433.3,787.3 1433.3,787.1 1435.9,787.1 1435.9,788.0 1438.5,788.0 1438.5,787.7 1441.1,787.7 1441.1,782.0 1443.7,782.0 1443.7,787.8 1446.3,787.8 1446.3,787.5 1448.9,787.5 1448.9,787.1 1451.5,787.1 1451.5,786.8 1454.1,786.8 1454.1,788.1 1456.7,788.1 1456.7,787.7 1459.3,787.7 1459.3,788.0 1461.9,788.0 1461.9,787.2 1464.5,787.2 1464.5,787.6 1467.1,787.6 1467.1,787.0 1469.7,787.0 1469.7,788.0 1472.3,788.0 1472.3,786.9 1474.9,786.9 1474.9,786.7 1477.5,786.7 1477.5,787.6 1480.1,787.6 1480.1,787.2 1482.7,787.2 1482.7,786.0 1485.3,786.0 1485.3,785.9 1487.9,785.9 1487.9,786.9 1490.5,786.9 1490.5,787.5 1493.1,787.5 1493.1,788.2 1495.7,788.2 1495.7,787.6 1498.3,787.6 1498.3,786.8 1500.9,786.8 1500.9,786.0 1503.5,786.0 1503.5,787.1 1506.1,787.1 1506.1,787.9 1508.7,787.9 1508.7,787.1 1511.3,787.1 1511.3,787.4 1513.9,787.4 1513.9,786.5 1516.5,786.5 1516.5,787.0 1519.1,787.0 1519.1,787.9 1521.7,787.9 1521.7,786.7 1524.3,786.7 1524.3,783.1 1526.9,783.1 1526.9,787.7 1529.5,787.7 1529.5,786.1 1532.1,786.1 1532.1,787.1 1534.7,787.1 1534.7,785.5 1537.3,785.5 1537.3,786.3 1539.9,786.3 1539.9,785.6 1542.5,785.6 1542.5,785.5 1545.1,785.5 1545.1,786.5 1547.7,786.5 1547.7,787.1 1550.3,787.1 1550.3,786.5 1552.9,786.5 1552.9,786.9 1555.5,786.9 1555.5,788.0 1558.1,788.0 1558.1,784.6 1560.7,784.6 1560.7,786.4 1563.3,786.4 1563.3,787.2 1565.9,787.2 1565.9,786.3 1568.5,786.3 1568.5,786.9 1571.1,786.9 1571.1,787.4 1573.7,787.4 1573.7,783.8 1576.3,783.8 1576.3,788.0 1578.9,788.0 1578.9,785.7 1581.5,785.7 1581.5,782.2 1584.1,782.2 1584.1,786.7 1586.7,786.7 1586.7,785.0 1589.3,785.0 1589.3,786.1 1591.9,786.1 1591.9,786.6 1594.5,786.6 1594.5,786.5 1597.1,786.5 1597.1,787.1 1599.7,787.1 1599.7,787.6 1602.3,787.6 1602.3,787.8 1604.9,787.8 1604.9,787.2 1607.5,787.2 1607.5,787.7 1610.1,787.7 1610.1,784.1 1612.7,784.1 1612.7,787.0 1615.3,787.0 1615.3,787.9 1617.9,787.9 1617.9,788.0 1620.5,788.0 1620.5,785.6 1623.1,785.6 1623.1,787.2 1625.7,787.2 1625.7,788.0 1628.3,788.0 1628.3,787.5 1630.9,787.5 1630.9,787.8 1633.5,787.8 1633.5,788.0 1636.1,788.0 1636.1,787.1 1638.7,787.1 1638.7,787.0 1641.3,787.0 1641.3,786.8 1643.9,786.8 1643.9,788.1 1646.5,788.1 1646.5,786.6 1649.1,786.6 1649.1,786.1 1651.7,786.1 1651.7,783.4 1654.3,783.4 1654.3,787.4 1656.9,787.4 1656.9,788.3 1659.5,788.3 1659.5,788.0 1662.1,788.0 1662.1,785.7 1664.7,785.7 1664.7,784.9 1667.3,784.9 1667.3,787.1 1669.9,787.1 1669.9,788.3 1672.5,788.3 1672.5,785.5 1675.1,785.5 1675.1,785.5 1677.7,785.5 1677.7,786.3 1680.3,786.3 1680.3,788.3 1682.9,788.3 1682.9,788.3 1685.5,788.3 1685.5,786.8 1688.1,786.8 1688.1,788.1 1690.7,788.1 1690.7,786.1 1693.3,786.1 1693.3,787.6 1695.9,787.6 1695.9,787.9 1698.5,787.9 1698.5,787.1 1701.1,787.1 1701.1,787.4 1703.7,787.4 1703.7,787.7 1706.3,787.7 1706.3,786.7 1708.9,786.7 1708.9,787.3 1711.5,787.3 1711.5,786.9 1714.1,786.9 1714.1,787.2 1716.7,787.2 1716.7,788.0 1719.3,788.0 1719.3,787.6 1721.9,787.6 1721.9,787.5 1724.5,787.5 1724.5,787.5 1727.1,787.5 1727.1,788.1 1729.7,788.1 1729.7,786.2 1732.3,786.2 1732.3,787.0 1734.9,787.0 1734.9,788.1 1737.5,788.1 1737.5,785.9 1740.1,785.9 1740.1,784.0 1742.7,784.0 1742.7,788.0 1745.3,788.0 1745.3,787.5 1747.9,787.5 1747.9,788.2 1750.5,788.2 1750.5,787.7 1753.1,787.7 1753.1,784.1 1755.7,784.1 1755.7,787.3 1758.3,787.3 1758.3,786.5 1760.9,786.5 1760.9,787.8 1763.5,787.8 1763.5,784.6 1766.1,784.6 1766.1,782.9 1768.7,782.9 1768.7,787.9 1771.3,787.9 1771.3,786.7 1773.9,786.7 1773.9,786.9 1776.5,786.9 1776.5,787.8 1779.1,787.8 1779.1,788.1 1781.7,788.1 1781.7,785.1 1784.3,785.1 1784.3,786.3 1786.9,786.3 1786.9,787.4 1789.5,787.4 1789.5,786.7 1792.1,786.7 1792.1,784.0 1794.7,784.0 1794.7,787.7 1797.3,787.7 1797.3,786.9 1799.9,786.9 1799.9,787.7 1802.5,787.7 1802.5,787.6 1805.1,787.6 1805.1,786.8 1807.7,786.8 1807.7,787.3 1810.3,787.3 1810.3,786.3 1812.9,786.3 1812.9,786.9 1815.5,786.9 1815.5,787.7 1818.1,787.7 1818.1,788.2 1820.7,788.2 1820.7,786.5 1823.3,786.5 1823.3,783.9 1825.9,783.9 1825.9,786.3 1828.5,786.3 1828.5,787.9 1831.1,787.9 1831.1,787.0 1833.7,787.0 1833.7,787.1 1836.3,787.1 1836.3,787.1 1838.9,787.1 1838.9,788.0 1841.5,788.0 1841.5,786.8 1844.1,786.8 1844.1,786.3 1846.7,786.3 1846.7,785.6 1849.3,785.6 1849.3,787.6 1851.9,787.6 1851.9,787.1 1854.5,787.1 1854.5,786.4 1857.1,786.4 1857.1,784.0 1859.7,784.0 1859.7,785.3 1862.3,785.3 1862.3,787.4 1864.9,787.4 1864.9,786.7 1867.5,786.7 1867.5,787.8 1870.1,787.8 1870.1,784.2 1872.7,784.2 1872.7,786.4 1875.3,786.4 1875.3,786.3 1877.9,786.3 1877.9,787.8 1880.5,787.8 1880.5,788.1 1883.1,788.1 1883.1,786.6 1885.7,786.6 1885.7,786.4 1888.3,786.4 1888.3,788.0 1890.9,788.0 1890.9,787.8 1893.5,787.8 1893.5,787.8 1896.1,787.8 1896.1,786.2 1898.7,786.2 1898.7,787.9 1901.3,787.9 1901.3,786.6 1903.9,786.6 1903.9,788.2 1906.5,788.2 1906.5,786.7 1909.1,786.7 1909.1,788.0 1911.7,788.0 1911.7,788.0 1914.3,788.0 1914.3,786.6 1916.9,786.6 1916.9,784.4 1919.5,784.4 1919.5,785.6 1922.1,785.6 1922.1,787.3 1924.7,787.3 1924.7,788.0 1927.3,788.0 1927.3,787.7 1929.9,787.7 1929.9,787.5 1932.5,787.5 1932.5,785.9 1935.1,785.9 1935.1,787.7 1937.7,787.7 1937.7,786.1 1940.3,786.1 1940.3,788.3 1942.9,788.3 1942.9,788.0 1945.5,788.0 1945.5,787.4 1948.1,787.4 1948.1,788.1 1950.7,788.1 1950.7,787.8 1953.3,787.8 1953.3,788.0 1955.9,788.0 1955.9,788.2 1958.5,788.2 1958.5,786.4 1961.1,786.4 1961.1,787.2 1963.7,787.2 1963.7,787.7 1966.3,787.7 1966.3,787.7 1968.9,787.7 1968.9,784.8 1971.5,784.8 1971.5,786.9 1974.1,786.9 1974.1,788.0 1976.7,788.0 1976.7,786.7 1979.3,786.7 1979.3,787.0 1981.9,787.0 1981.9,788.0 1984.5,788.0 1984.5,825.0 1981.9,825.0 1981.9,817.0 1979.3,817.0 1979.3,817.2 1976.7,817.2 1976.7,821.5 1974.1,821.5 1974.1,818.6 1971.5,818.6 1971.5,820.9 1968.9,820.9 1968.9,820.6 1966.3,820.6 1966.3,819.0 1963.7,819.0 1963.7,817.3 1961.1,817.3 1961.1,817.0 1958.5,817.0 1958.5,817.1 1955.9,817.1 1955.9,817.1 1953.3,817.1 1953.3,816.5 1950.7,816.5 1950.7,816.6 1948.1,816.6 1948.1,818.0 1945.5,818.0 1945.5,821.4 1942.9,821.4 1942.9,818.7 1940.3,818.7 1940.3,819.1 1937.7,819.1 1937.7,817.2 1935.1,817.2 1935.1,817.8 1932.5,817.8 1932.5,818.8 1929.9,818.8 1929.9,818.4 1927.3,818.4 1927.3,818.8 1924.7,818.8 1924.7,819.9 1922.1,819.9 1922.1,817.8 1919.5,817.8 1919.5,818.7 1916.9,818.7 1916.9,817.4 1914.3,817.4 1914.3,818.4 1911.7,818.4 1911.7,817.0 1909.1,817.0 1909.1,817.0 1906.5,817.0 1906.5,823.4 1903.9,823.4 1903.9,816.6 1901.3,816.6 1901.3,816.8 1898.7,816.8 1898.7,816.6 1896.1,816.6 1896.1,817.7 1893.5,817.7 1893.5,819.1 1890.9,819.1 1890.9,818.6 1888.3,818.6 1888.3,816.9 1885.7,816.9 1885.7,817.3 1883.1,817.3 1883.1,817.7 1880.5,817.7 1880.5,816.5 1877.9,816.5 1877.9,820.4 1875.3,820.4 1875.3,816.9 1872.7,816.9 1872.7,817.7 1870.1,817.7 1870.1,816.9 1867.5,816.9 1867.5,818.9 1864.9,818.9 1864.9,818.6 1862.3,818.6 1862.3,819.3 1859.7,819.3 1859.7,819.9 1857.1,819.9 1857.1,818.9 1854.5,818.9 1854.5,816.9 1851.9,816.9 1851.9,816.6 1849.3,816.6 1849.3,817.4 1846.7,817.4 1846.7,817.5 1844.1,817.5 1844.1,817.6 1841.5,817.6 1841.5,824.6 1838.9,824.6 1838.9,819.0 1836.3,819.0 1836.3,818.7 1833.7,818.7 1833.7,817.9 1831.1,817.9 1831.1,818.0 1828.5,818.0 1828.5,816.7 1825.9,816.7 1825.9,818.5 1823.3,818.5 1823.3,819.8 1820.7,819.8 1820.7,817.2 1818.1,817.2 1818.1,819.0 1815.5,819.0 1815.5,817.2 1812.9,817.2 1812.9,816.7 1810.3,816.7 1810.3,816.9 1807.7,816.9 1807.7,817.5 1805.1,817.5 1805.1,816.7 1802.5,816.7 1802.5,816.9 1799.9,816.9 1799.9,817.3 1797.3,817.3 1797.3,816.7 1794.7,816.7 1794.7,819.1 1792.1,819.1 1792.1,817.0 1789.5,817.0 1789.5,818.3 1786.9,818.3 1786.9,817.0 1784.3,817.0 1784.3,817.1 1781.7,817.1 1781.7,817.1 1779.1,817.1 1779.1,818.1 1776.5,818.1 1776.5,818.9 1773.9,818.9 1773.9,816.6 1771.3,816.6 1771.3,818.0 1768.7,818.0 1768.7,818.7 1766.1,818.7 1766.1,821.6 1763.5,821.6 1763.5,816.8 1760.9,816.8 1760.9,816.6 1758.3,816.6 1758.3,818.6 1755.7,818.6 1755.7,817.5 1753.1,817.5 1753.1,817.8 1750.5,817.8 1750.5,817.8 1747.9,817.8 1747.9,816.9 1745.3,816.9 1745.3,817.4 1742.7,817.4 1742.7,817.3 1740.1,817.3 1740.1,819.0 1737.5,819.0 1737.5,816.6 1734.9,816.6 1734.9,817.6 1732.3,817.6 1732.3,817.7 1729.7,817.7 1729.7,816.6 1727.1,816.6 1727.1,818.0 1724.5,818.0 1724.5,818.7 1721.9,818.7 1721.9,817.3 1719.3,817.3 1719.3,819.3 1716.7,819.3 1716.7,818.4 1714.1,818.4 1714.1,818.9 1711.5,818.9 1711.5,819.5 1708.9,819.5 1708.9,816.7 1706.3,816.7 1706.3,818.7 1703.7,818.7 1703.7,817.0 1701.1,817.0 1701.1,821.4 1698.5,821.4 1698.5,817.6 1695.9,817.6 1695.9,821.7 1693.3,821.7 1693.3,817.3 1690.7,817.3 1690.7,819.3 1688.1,819.3 1688.1,817.0 1685.5,817.0 1685.5,819.3 1682.9,819.3 1682.9,817.1 1680.3,817.1 1680.3,818.2 1677.7,818.2 1677.7,820.3 1675.1,820.3 1675.1,816.5 1672.5,816.5 1672.5,818.1 1669.9,818.1 1669.9,819.1 1667.3,819.1 1667.3,817.9 1664.7,817.9 1664.7,816.9 1662.1,816.9 1662.1,817.2 1659.5,817.2 1659.5,819.4 1656.9,819.4 1656.9,817.7 1654.3,817.7 1654.3,817.4 1651.7,817.4 1651.7,817.9 1649.1,817.9 1649.1,818.2 1646.5,818.2 1646.5,817.0 1643.9,817.0 1643.9,817.7 1641.3,817.7 1641.3,819.1 1638.7,819.1 1638.7,817.0 1636.1,817.0 1636.1,819.1 1633.5,819.1 1633.5,817.1 1630.9,817.1 1630.9,817.3 1628.3,817.3 1628.3,817.6 1625.7,817.6 1625.7,816.5 1623.1,816.5 1623.1,819.1 1620.5,819.1 1620.5,817.3 1617.9,817.3 1617.9,817.2 1615.3,817.2 1615.3,818.4 1612.7,818.4 1612.7,817.6 1610.1,817.6 1610.1,817.7 1607.5,817.7 1607.5,817.5 1604.9,817.5 1604.9,818.4 1602.3,818.4 1602.3,817.8 1599.7,817.8 1599.7,817.7 1597.1,817.7 1597.1,818.0 1594.5,818.0 1594.5,816.9 1591.9,816.9 1591.9,818.1 1589.3,818.1 1589.3,817.4 1586.7,817.4 1586.7,816.9 1584.1,816.9 1584.1,817.0 1581.5,817.0 1581.5,818.4 1578.9,818.4 1578.9,817.9 1576.3,817.9 1576.3,817.0 1573.7,817.0 1573.7,818.1 1571.1,818.1 1571.1,818.6 1568.5,818.6 1568.5,816.5 1565.9,816.5 1565.9,816.9 1563.3,816.9 1563.3,817.6 1560.7,817.6 1560.7,818.7 1558.1,818.7 1558.1,816.8 1555.5,816.8 1555.5,818.0 1552.9,818.0 1552.9,816.6 1550.3,816.6 1550.3,817.5 1547.7,817.5 1547.7,817.9 1545.1,817.9 1545.1,816.9 1542.5,816.9 1542.5,817.0 1539.9,817.0 1539.9,817.3 1537.3,817.3 1537.3,817.9 1534.7,817.9 1534.7,817.3 1532.1,817.3 1532.1,819.4 1529.5,819.4 1529.5,817.9 1526.9,817.9 1526.9,817.8 1524.3,817.8 1524.3,817.2 1521.7,817.2 1521.7,820.2 1519.1,820.2 1519.1,819.1 1516.5,819.1 1516.5,817.4 1513.9,817.4 1513.9,816.8 1511.3,816.8 1511.3,818.9 1508.7,818.9 1508.7,817.9 1506.1,817.9 1506.1,817.6 1503.5,817.6 1503.5,817.8 1500.9,817.8 1500.9,817.4 1498.3,817.4 1498.3,822.0 1495.7,822.0 1495.7,818.2 1493.1,818.2 1493.1,818.1 1490.5,818.1 1490.5,818.3 1487.9,818.3 1487.9,817.1 1485.3,817.1 1485.3,817.4 1482.7,817.4 1482.7,817.7 1480.1,817.7 1480.1,819.0 1477.5,819.0 1477.5,817.1 1474.9,817.1 1474.9,816.6 1472.3,816.6 1472.3,818.3 1469.7,818.3 1469.7,817.6 1467.1,817.6 1467.1,818.8 1464.5,818.8 1464.5,818.2 1461.9,818.2 1461.9,817.6 1459.3,817.6 1459.3,817.1 1456.7,817.1 1456.7,818.2 1454.1,818.2 1454.1,817.9 1451.5,817.9 1451.5,816.9 1448.9,816.9 1448.9,817.3 1446.3,817.3 1446.3,817.6 1443.7,817.6 1443.7,818.6 1441.1,818.6 1441.1,820.0 1438.5,820.0 1438.5,816.5 1435.9,816.5 1435.9,817.9 1433.3,817.9 1433.3,817.0 1430.7,817.0 1430.7,816.9 1428.1,816.9 1428.1,816.8 1425.5,816.8 1425.5,817.4 1422.9,817.4 1422.9,816.7 1420.3,816.7 1420.3,817.1 1417.7,817.1 1417.7,817.6 1415.1,817.6 1415.1,818.0 1412.5,818.0 1412.5,816.5 1409.9,816.5 1409.9,816.9 1407.3,816.9 1407.3,816.8 1404.7,816.8 1404.7,817.4 1402.1,817.4 1402.1,819.6 1399.5,819.6 1399.5,817.0 1396.9,817.0 1396.9,816.6 1394.3,816.6 1394.3,817.0 1391.7,817.0 1391.7,817.5 1389.1,817.5 1389.1,816.6 1386.5,816.6 1386.5,816.6 1383.9,816.6 1383.9,817.8 1381.3,817.8 1381.3,816.9 1378.7,816.9 1378.7,824.7 1376.1,824.7 1376.1,817.0 1373.5,817.0 1373.5,817.0 1370.9,817.0 1370.9,818.0 1368.3,818.0 1368.3,817.6 1365.7,817.6 1365.7,817.5 1363.1,817.5 1363.1,816.9 1360.5,816.9 1360.5,818.0 1357.9,818.0 1357.9,816.6 1355.3,816.6 1355.3,816.5 1352.7,816.5 1352.7,816.8 1350.1,816.8 1350.1,816.5 1347.5,816.5 1347.5,817.5 1344.9,817.5 1344.9,817.4 1342.3,817.4 1342.3,822.5 1339.7,822.5 1339.7,817.3 1337.1,817.3 1337.1,817.0 1334.5,817.0 1334.5,816.8 1331.9,816.8 1331.9,822.0 1329.3,822.0 1329.3,816.9 1326.7,816.9 1326.7,818.5 1324.1,818.5 1324.1,818.8 1321.5,818.8 1321.5,817.3 1318.9,817.3 1318.9,818.3 1316.3,818.3 1316.3,817.7 1313.7,817.7 1313.7,817.2 1311.1,817.2 1311.1,817.3 1308.5,817.3 1308.5,816.5 1305.9,816.5 1305.9,817.3 1303.3,817.3 1303.3,819.1 1300.7,819.1 1300.7,820.5 1298.1,820.5 1298.1,817.8 1295.5,817.8 1295.5,818.4 1292.9,818.4 1292.9,817.4 1290.3,817.4 1290.3,817.4 1287.7,817.4 1287.7,816.7 1285.1,816.7 1285.1,816.8 1282.5,816.8 1282.5,818.1 1279.9,818.1 1279.9,816.7 1277.3,816.7 1277.3,816.6 1274.7,816.6 1274.7,818.2 1272.1,818.2 1272.1,817.0 1269.5,817.0 1269.5,823.5 1266.9,823.5 1266.9,818.6 1264.3,818.6 1264.3,816.8 1261.7,816.8 1261.7,818.0 1259.1,818.0 1259.1,817.9 1256.5,817.9 1256.5,819.0 1253.9,819.0 1253.9,817.9 1251.3,817.9 1251.3,818.9 1248.7,818.9 1248.7,817.0 1246.1,817.0 1246.1,818.7 1243.5,818.7 1243.5,819.3 1240.9,819.3 1240.9,823.3 1238.3,823.3 1238.3,816.6 1235.7,816.6 1235.7,818.4 1233.1,818.4 1233.1,818.0 1230.5,818.0 1230.5,819.0 1227.9,819.0 1227.9,816.9 1225.3,816.9 1225.3,818.4 1222.7,818.4 1222.7,817.2 1220.1,817.2 1220.1,817.9 1217.5,817.9 1217.5,817.2 1214.9,817.2 1214.9,822.5 1212.3,822.5 1212.3,817.1 1209.7,817.1 1209.7,817.0 1207.1,817.0 1207.1,818.1 1204.5,818.1 1204.5,818.4 1201.9,818.4 1201.9,816.9 1199.3,816.9 1199.3,816.8 1196.7,816.8 1196.7,816.6 1194.1,816.6 1194.1,816.7 1191.5,816.7 1191.5,816.9 1188.9,816.9 1188.9,818.4 1186.3,818.4 1186.3,821.6 1183.7,821.6 1183.7,817.2 1181.1,817.2 1181.1,817.9 1178.5,817.9 1178.5,816.9 1175.9,816.9 1175.9,817.7 1173.3,817.7 1173.3,816.9 1170.7,816.9 1170.7,817.9 1168.1,817.9 1168.1,818.4 1165.5,818.4 1165.5,817.6 1162.9,817.6 1162.9,817.5 1160.3,817.5 1160.3,819.4 1157.7,819.4 1157.7,818.5 1155.1,818.5 1155.1,817.6 1152.5,817.6 1152.5,816.7 1149.9,816.7 1149.9,817.8 1147.3,817.8 1147.3,817.4 1144.7,817.4 1144.7,816.9 1142.1,816.9 1142.1,819.0 1139.5,819.0 1139.5,816.7 1136.9,816.7 1136.9,820.2 1134.3,820.2 1134.3,816.9 1131.7,816.9 1131.7,816.6 1129.1,816.6 1129.1,819.0 1126.5,819.0 1126.5,816.6 1123.9,816.6 1123.9,816.6 1121.3,816.6 1121.3,817.8 1118.7,817.8 1118.7,817.8 1116.1,817.8 1116.1,818.2 1113.5,818.2 1113.5,818.1 1110.9,818.1 1110.9,817.8 1108.3,817.8 1108.3,819.2 1105.7,819.2 1105.7,817.4 1103.1,817.4 1103.1,817.2 1100.5,817.2"/>
<line x1="1101.5" y1="802.8" x2="1985.6" y2="802.8" stroke="#3ce2d4" stroke-width="5.4"/>
<line x1="189.8" y1="473.9" x2="1102.5" y2="473.9" stroke="#0c0c0c" stroke-width="3.8"/>
<line x1="1102.5" y1="473.9" x2="1990.7" y2="473.9" stroke="#262e20" stroke-width="3.8"/>
<line x1="189.8" y1="1169.6" x2="1102.5" y2="1169.6" stroke="#0c0c0c" stroke-width="3.8"/>
<line x1="1102.5" y1="1169.6" x2="1990.7" y2="1169.6" stroke="#262e20" stroke-width="3.8"/>
<line x1="216.8" y1="472.4" x2="216.8" y2="1196.0" stroke="#0c0c0c" stroke-width="3.8"/>
<line x1="1989.2" y1="472.4" x2="1989.2" y2="1169.6" stroke="#262e20" stroke-width="3.8"/>
<line x1="1989.2" y1="1169.6" x2="1989.2" y2="1196.0" stroke="#0c0c0c" stroke-width="3.8"/>
<line x1="189.8" y1="995.7" x2="216.8" y2="995.7" stroke="#0c0c0c" stroke-width="3.8"/>
<line x1="189.8" y1="821.8" x2="216.8" y2="821.8" stroke="#0c0c0c" stroke-width="3.8"/>
<line x1="189.8" y1="647.8" x2="216.8" y2="647.8" stroke="#0c0c0c" stroke-width="3.8"/>
<line x1="203.3" y1="1082.6" x2="216.8" y2="1082.6" stroke="#0c0c0c" stroke-width="3.8"/>
<line x1="203.3" y1="908.7" x2="216.8" y2="908.7" stroke="#0c0c0c" stroke-width="3.8"/>
<line x1="203.3" y1="734.8" x2="216.8" y2="734.8" stroke="#0c0c0c" stroke-width="3.8"/>
<line x1="203.3" y1="560.9" x2="216.8" y2="560.9" stroke="#0c0c0c" stroke-width="3.8"/>
<line x1="571.3" y1="1169.6" x2="571.3" y2="1196.0" stroke="#0c0c0c" stroke-width="3.8"/>
<line x1="925.8" y1="1169.6" x2="925.8" y2="1196.0" stroke="#0c0c0c" stroke-width="3.8"/>
<line x1="1280.2" y1="1169.6" x2="1280.2" y2="1196.0" stroke="#0c0c0c" stroke-width="3.8"/>
<line x1="1634.7" y1="1169.6" x2="1634.7" y2="1196.0" stroke="#0c0c0c" stroke-width="3.8"/>
<line x1="394.0" y1="1169.6" x2="394.0" y2="1181.8" stroke="#0c0c0c" stroke-width="3.8"/>
<line x1="748.5" y1="1169.6" x2="748.5" y2="1181.8" stroke="#0c0c0c" stroke-width="3.8"/>
<line x1="1103.0" y1="1169.6" x2="1103.0" y2="1181.8" stroke="#0c0c0c" stroke-width="3.8"/>
<line x1="1457.5" y1="1169.6" x2="1457.5" y2="1181.8" stroke="#0c0c0c" stroke-width="3.8"/>
<line x1="1812.0" y1="1169.6" x2="1812.0" y2="1181.8" stroke="#0c0c0c" stroke-width="3.8"/>
<text x="170.4" y="1180.6" text-anchor="end" font-family="Liberation Sans, Arial, sans-serif" font-weight="bold" font-size="40">2.0</text>
<text x="170.4" y="1006.7" text-anchor="end" font-family="Liberation Sans, Arial, sans-serif" font-weight="bold" font-size="40">2.5</text>
<text x="170.4" y="832.8" text-anchor="end" font-family="Liberation Sans, Arial, sans-serif" font-weight="bold" font-size="40">3.0</text>
<text x="170.4" y="658.8" text-anchor="end" font-family="Liberation Sans, Arial, sans-serif" font-weight="bold" font-size="40">3.5</text>
<text x="170.4" y="484.9" text-anchor="end" font-family="Liberation Sans, Arial, sans-serif" font-weight="bold" font-size="40">4.0</text>
<text x="217.1" y="1245.4" text-anchor="middle" font-family="Liberation Sans, Arial, sans-serif" font-weight="bold" font-size="40">0</text>
<text x="571.6" y="1245.4" text-anchor="middle" font-family="Liberation Sans, Arial, sans-serif" font-weight="bold" font-size="40">1</text>
<text x="926.1" y="1245.4" text-anchor="middle" font-family="Liberation Sans, Arial, sans-serif" font-weight="bold" font-size="40">2</text>
<text x="1280.5" y="1245.4" text-anchor="middle" font-family="Liberation Sans, Arial, sans-serif" font-weight="bold" font-size="40">3</text>
<text x="1635.0" y="1245.4" text-anchor="middle" font-family="Liberation Sans, Arial, sans-serif" font-weight="bold" font-size="40">4</text>
<text x="1989.5" y="1245.4" text-anchor="middle" font-family="Liberation Sans, Arial, sans-serif" font-weight="bold" font-size="40">5</text>
<text transform="translate(937.1,1287.0) scale(1.01,1)" text-anchor="middle" font-family="Liberation Sans, Arial, sans-serif" font-weight="bold" font-size="40">Time [h]</text>
<text transform="translate(73.5,820.4) rotate(-90) scale(0.98,1)" text-anchor="middle" font-family="Liberation Sans, Arial, sans-serif" font-weight="bold" font-size="41">Pulse duration [ns]</text>
<text transform="translate(-0.46,503.9) scale(0.9,1)" font-family="Liberation Sans, Arial, sans-serif" font-weight="bold" font-size="55.2" stroke="#0a0a0a" stroke-width="0.7" stroke-linejoin="round">b<tspan dx="3.8" dy="-0.95" font-size="54.6">)</tspan></text>
<text y="1086.9" font-family="Liberation Sans, Arial, sans-serif" font-weight="bold" font-size="34.0" fill="#0a0a0a" stroke="#0a0a0a" stroke-width="0.50" stroke-linejoin="round"><tspan x="460.1" textLength="19.0" lengthAdjust="spacingAndGlyphs">P</tspan><tspan x="481.2" textLength="8.0" lengthAdjust="spacingAndGlyphs">I</tspan><tspan x="491.6" textLength="24.1" lengthAdjust="spacingAndGlyphs">D</tspan> <tspan x="525.8" textLength="25.6" lengthAdjust="spacingAndGlyphs">O</tspan><tspan x="553.5" textLength="15.8" lengthAdjust="spacingAndGlyphs">F</tspan><tspan x="572.2" textLength="15.8" lengthAdjust="spacingAndGlyphs">F</tspan></text>
<text y="1086.9" font-family="Liberation Sans, Arial, sans-serif" font-weight="bold" font-size="34.0" fill="#0a0a0a" stroke="#0a0a0a" stroke-width="0.50" stroke-linejoin="round"><tspan x="672.3" textLength="41.2" lengthAdjust="spacingAndGlyphs">1σ</tspan> <tspan x="723.7" textLength="20.5" lengthAdjust="spacingAndGlyphs">=</tspan> <tspan x="754.1" textLength="58.4" lengthAdjust="spacingAndGlyphs">372</tspan> <tspan x="823.6" textLength="37.4" lengthAdjust="spacingAndGlyphs">ps</tspan></text>
<text y="1135.3" font-family="Liberation Sans, Arial, sans-serif" font-weight="bold" font-size="34.0" fill="#0a0a0a" stroke="#0a0a0a" stroke-width="0.50" stroke-linejoin="round"><tspan x="660.8" textLength="53.5" lengthAdjust="spacingAndGlyphs">p-p</tspan> <tspan x="726.1" textLength="19.1" lengthAdjust="spacingAndGlyphs">=</tspan> <tspan x="754.7" textLength="69.2" lengthAdjust="spacingAndGlyphs">1.09</tspan> <tspan x="836.3" textLength="36.1" lengthAdjust="spacingAndGlyphs">ns</tspan></text>
<text y="1086.9" font-family="Liberation Sans, Arial, sans-serif" font-weight="bold" font-size="34.0" fill="#0a0a0a" stroke="#0a0a0a" stroke-width="0.50" stroke-linejoin="round"><tspan x="1352.4" textLength="18.7" lengthAdjust="spacingAndGlyphs">P</tspan><tspan x="1373.2" textLength="8.0" lengthAdjust="spacingAndGlyphs">I</tspan><tspan x="1383.6" textLength="24.1" lengthAdjust="spacingAndGlyphs">D</tspan> <tspan x="1418.2" textLength="25.6" lengthAdjust="spacingAndGlyphs">O</tspan><tspan x="1444.9" textLength="25.4" lengthAdjust="spacingAndGlyphs">N</tspan></text>
<text y="1086.9" font-family="Liberation Sans, Arial, sans-serif" font-weight="bold" font-size="34.0" fill="#0a0a0a" stroke="#0a0a0a" stroke-width="0.50" stroke-linejoin="round"><tspan x="1573.7" textLength="41.2" lengthAdjust="spacingAndGlyphs">1σ</tspan> <tspan x="1626.4" textLength="17.9" lengthAdjust="spacingAndGlyphs">=</tspan> <tspan x="1653.8" textLength="40.1" lengthAdjust="spacingAndGlyphs">97</tspan> <tspan x="1704.4" textLength="37.4" lengthAdjust="spacingAndGlyphs">ps</tspan></text>
<text y="1135.3" font-family="Liberation Sans, Arial, sans-serif" font-weight="bold" font-size="34.0" fill="#0a0a0a" stroke="#0a0a0a" stroke-width="0.50" stroke-linejoin="round"><tspan x="1551.9" textLength="54.5" lengthAdjust="spacingAndGlyphs">p-p</tspan> <tspan x="1618.4" textLength="19.1" lengthAdjust="spacingAndGlyphs">=</tspan> <tspan x="1646.9" textLength="59.0" lengthAdjust="spacingAndGlyphs">275</tspan> <tspan x="1715.9" textLength="37.4" lengthAdjust="spacingAndGlyphs">ps</tspan></text>
</g>
<g id="inset">
<polyline fill="none" stroke="#535353" stroke-width="1.7" stroke-linejoin="round" points="558.1,592.2 559.1,617.3 559.9,580.3 561.1,556.1 561.5,562.0 562.0,628.6 562.6,576.3 563.3,634.8 564.0,639.8 564.5,636.7 565.5,586.3 566.1,621.4 566.7,588.2 567.3,618.5 568.2,585.0 568.7,625.5 569.5,585.4 570.0,634.1 571.0,589.0 571.9,647.3 572.8,660.2 573.2,655.2 573.5,577.6 574.6,638.1 575.4,577.0 576.0,644.2 576.7,577.1 577.6,624.0 578.3,637.4 579.2,619.2 579.8,569.8 580.3,634.6 580.7,568.1 581.4,621.0 582.2,587.8 582.9,633.0 583.8,577.1 584.7,617.6 585.5,632.7 586.2,617.7 587.0,591.7 587.9,584.8 588.2,583.4 588.8,632.8 589.4,584.9 590.0,625.7 590.6,577.4 591.1,631.8 591.9,584.2 592.7,637.4 593.5,574.1 594.1,636.5 595.1,557.9 595.7,621.9 596.3,544.2 596.9,627.6 597.6,569.3 598.2,618.6 599.1,580.1 599.8,582.4 600.7,586.5 601.6,630.4 602.2,635.1 603.1,633.8 603.7,596.1 604.6,604.0 605.5,598.6 606.3,629.9 606.9,594.6 607.6,619.0 608.2,594.4 609.4,627.9 610.0,593.6 610.9,619.0 611.7,579.2 612.4,627.5 612.9,569.0 613.8,621.4 614.6,552.0 615.4,546.5 616.1,566.7 616.6,627.9 617.7,561.0 618.5,630.0 619.4,564.6 620.0,646.8 620.6,555.4 621.4,670.9 622.1,570.0 622.7,633.7 623.7,572.7 624.4,635.4 625.3,582.9 626.2,632.7 626.7,575.2 627.6,643.0 628.5,582.8 629.2,654.9 629.7,665.0 630.9,547.7 631.2,569.3 632.1,643.6 632.9,584.4 633.6,653.4 634.4,586.0 635.1,643.8 635.7,647.0 636.9,631.3 637.6,591.2 638.3,629.8 639.0,591.3 639.6,633.9 640.5,642.2 641.0,628.8 641.7,586.5 642.6,629.6 643.4,581.0 644.0,645.0 644.9,587.9 645.3,672.1 646.3,591.0 647.1,641.4 647.9,587.0 648.8,639.3 649.5,586.9 650.4,630.9 651.4,584.0 652.1,638.3 652.5,644.6 653.6,629.7 654.9,577.6 655.3,635.9 655.9,583.3 656.6,628.7 657.5,585.5 658.2,634.9 659.0,584.0 659.6,635.1 660.6,579.8 661.3,619.8 662.0,575.3 663.0,635.5 663.5,585.6 664.1,637.9 664.6,586.7 665.5,634.3 666.0,572.6 666.8,645.8 667.4,569.7 668.1,634.7 669.2,558.5 670.1,623.6 670.7,573.9 671.2,639.0 671.9,581.7 672.5,623.6 673.5,579.2 674.0,635.1 674.7,585.4 675.7,633.2 676.6,587.6 677.2,620.4 678.0,587.1 678.7,629.7 679.5,588.5 680.4,625.0 681.2,642.2 681.9,628.5 682.6,583.9 683.4,630.3 684.1,570.4 684.7,640.9 685.6,567.9 686.3,648.9 687.1,553.0 687.9,653.0 688.4,574.3 689.3,623.9 690.1,564.5 690.7,528.6 692.0,556.9 693.1,623.1 693.5,574.1 694.4,614.6 695.5,568.1 695.9,614.5 696.8,570.3 697.5,621.9 698.1,572.4 699.0,616.3 699.5,577.4 700.3,627.9 700.7,586.2 701.5,619.4 702.7,575.3 703.2,620.2 704.1,589.2 705.0,630.7 705.7,591.5 706.4,626.4 707.0,584.6 707.5,632.7 708.4,586.9 709.3,621.8 709.9,580.0 711.1,645.0 712.1,579.7 712.8,633.9 713.5,653.0 714.7,560.9 715.3,562.3 716.1,639.4 716.7,578.3 717.3,647.9 718.2,573.4 719.4,649.4 720.2,545.4 720.7,646.0 721.5,578.3 722.2,632.5 722.8,561.6 723.4,638.3 724.0,582.0 724.8,622.3 725.6,569.1 726.6,637.4 726.9,577.4 727.5,633.4 728.0,575.1 728.7,630.8 729.5,582.7 730.1,648.4 730.8,566.6 731.7,640.9 732.6,560.9 733.2,633.3 734.0,574.8 734.5,647.7 735.0,667.3 735.9,642.4 736.5,582.3 737.1,631.5 737.7,577.2 738.6,577.6 739.0,579.2 739.7,639.3 740.5,585.3 741.0,637.4 741.7,592.0 742.2,628.8 743.4,587.2 743.9,625.1 744.7,588.8 745.5,645.9 746.3,585.5 747.0,644.7 748.2,552.5 748.8,652.0 749.7,570.1 750.5,667.3 751.5,578.8 752.5,635.9 753.2,575.5 753.8,634.9 754.6,545.4 755.3,627.9 755.9,571.1 756.6,629.1 757.6,554.1 758.3,623.9 759.2,551.6 760.1,627.7 760.7,561.1 761.3,635.1 762.5,551.3 762.9,619.1 763.8,560.6 764.7,616.7 765.6,552.7 766.6,621.6 767.3,623.1 768.3,618.1 769.2,556.6 769.7,550.1 771.1,564.6 772.1,617.1 773.1,558.2 773.7,629.2 774.5,632.7 775.0,620.4 775.7,553.7 776.6,626.9 777.3,562.6 778.2,625.6 779.2,564.9 779.9,616.5 780.7,567.5 781.6,627.9 782.3,570.0 782.8,622.0 783.3,584.4 784.2,622.0 785.0,577.1 785.7,619.9 786.4,569.0 787.2,622.0 787.7,581.0 788.8,635.1 789.4,569.4 790.0,627.4 790.5,568.4 791.1,619.4 792.1,577.7 792.7,624.7 793.5,565.0 794.2,617.4 795.2,573.0 796.0,618.3 797.1,583.6 797.8,611.8 798.4,573.9 799.1,621.3 799.8,588.4 800.8,584.8 801.3,588.2 802.0,627.9 802.9,579.7 803.4,620.2 804.1,568.8 804.8,617.9 805.6,575.4 806.4,615.5 807.4,566.3 808.0,613.5 808.4,546.5 809.4,614.6 810.1,555.7 811.1,616.8 812.0,578.5 812.6,613.3 813.6,554.3 814.2,619.8 815.1,552.5 815.6,623.8 816.5,576.7 817.5,630.3 818.1,578.6 819.1,623.3 819.9,575.3 820.7,625.1 821.6,571.9 822.3,623.1 823.0,561.3 823.9,636.4 824.7,546.5 825.4,647.6 825.9,694.9 826.9,638.7 827.6,569.8 828.5,646.2 829.5,630.3 830.1,617.8 830.8,572.7 831.3,616.8 832.0,575.7 833.0,614.4 833.6,566.4 834.3,617.0"/>
<line x1="557.5" y1="598.5" x2="835.0" y2="598.5" stroke="#28eef4" stroke-width="3.4"/>
<rect x="557.5" y="502.8" width="277.5" height="218.4" fill="none" stroke="#4c4c4c" stroke-width="1.8"/>
<line x1="552.0" y1="502.8" x2="557.5" y2="502.8" stroke="#5a5a5a" stroke-width="1.5"/>
<line x1="552.0" y1="612.0" x2="557.5" y2="612.0" stroke="#5a5a5a" stroke-width="1.5"/>
<line x1="552.0" y1="721.2" x2="557.5" y2="721.2" stroke="#5a5a5a" stroke-width="1.5"/>
<line x1="554.5" y1="557.4" x2="557.5" y2="557.4" stroke="#777" stroke-width="1.3"/>
<line x1="554.5" y1="666.6" x2="557.5" y2="666.6" stroke="#777" stroke-width="1.3"/>
<line x1="557.5" y1="721.2" x2="557.5" y2="726.0" stroke="#5a5a5a" stroke-width="1.5"/>
<line x1="835.0" y1="721.2" x2="835.0" y2="726.0" stroke="#5a5a5a" stroke-width="1.5"/>
<line x1="696.3" y1="721.2" x2="696.3" y2="724.0" stroke="#777" stroke-width="1.3"/>
<text x="547.7" y="512.8" text-anchor="end" font-family="Liberation Sans, Arial, sans-serif" font-weight="bold" font-size="29.5" stroke="#0a0a0a" stroke-width="0.4">2.9</text>
<text x="547.7" y="622.8" text-anchor="end" font-family="Liberation Sans, Arial, sans-serif" font-weight="bold" font-size="29.5" stroke="#0a0a0a" stroke-width="0.4">2.8</text>
<text x="547.7" y="731.0" text-anchor="end" font-family="Liberation Sans, Arial, sans-serif" font-weight="bold" font-size="29.5" stroke="#0a0a0a" stroke-width="0.4">2.7</text>
<text x="557" y="753.3" text-anchor="middle" font-family="Liberation Sans, Arial, sans-serif" font-weight="bold" font-size="29.5" stroke="#0a0a0a" stroke-width="0.4">6400</text>
<text x="836" y="753.3" text-anchor="middle" font-family="Liberation Sans, Arial, sans-serif" font-weight="bold" font-size="29.5" stroke="#0a0a0a" stroke-width="0.4">6405</text>
<text x="696" y="753.3" text-anchor="middle" font-family="Liberation Sans, Arial, sans-serif" font-weight="bold" font-size="29.5" stroke="#0a0a0a" stroke-width="0.4">t [s]</text>
<text transform="translate(494.2,612.6) rotate(-90)" text-anchor="middle" font-family="Liberation Sans, Arial, sans-serif" font-weight="bold" font-size="29.5" stroke="#0a0a0a" stroke-width="0.4">[ns]</text>
</g>
</g>
</svg>
</body>
</html>
